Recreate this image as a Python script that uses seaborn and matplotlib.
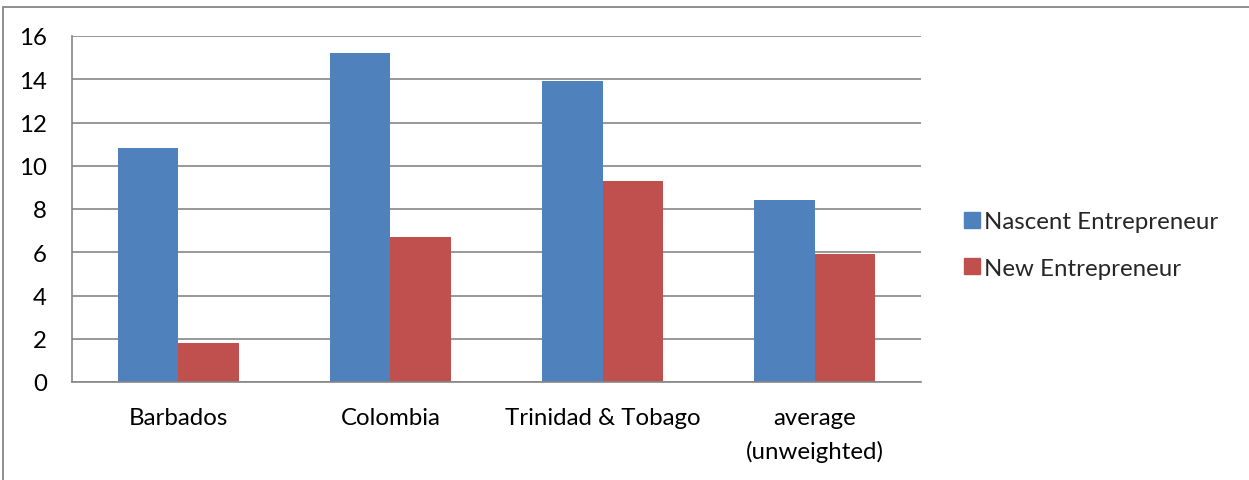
import matplotlib
matplotlib.use("Agg")
import matplotlib.pyplot as plt
import seaborn as sns
import pandas as pd
from matplotlib.patches import Rectangle
from matplotlib.lines import Line2D

categories = ["Barbados", "Colombia", "Trinidad & Tobago", "average\n(unweighted)"]
series_names = ["Nascent Entrepreneur", "New Entrepreneur"]
nascent = [10.8, 15.2, 13.9, 8.4]
new = [1.8, 6.7, 9.3, 5.9]
yticks = [0, 2, 4, 6, 8, 10, 12, 14, 16]
colors = ["#4F81BD", "#C0504D"]

df = pd.DataFrame({
    "Country": categories * 2,
    "Series": [series_names[0]] * len(categories) + [series_names[1]] * len(categories),
    "Value": nascent + new,
})

sns.set_theme(style="white")
plt.rcParams["font.family"] = ["Lato", "DejaVu Sans"]

fs = 17.3

fig = plt.figure(figsize=(12.49, 4.81), dpi=100)
ax = fig.add_axes([72 / 1249, 1 - 383 / 481, (921 - 72) / 1249, (383 - 37) / 481])

sns.barplot(data=df, x="Country", y="Value", hue="Series", palette=colors,
            width=0.57, ax=ax, saturation=1, edgecolor="none", linewidth=0, legend=False)

ax.set_ylim(0, 16)
ax.set_xlim(-0.5, len(categories) - 0.5)
ax.set_yticks(yticks)
ax.set_yticklabels([str(t) for t in yticks])
ax.set_xlabel("")
ax.set_ylabel("")
ax.yaxis.grid(True, color="#868686", linewidth=1.2)
ax.set_axisbelow(True)
for s in ["top", "right"]:
    ax.spines[s].set_visible(False)
for s in ["left", "bottom"]:
    ax.spines[s].set_color("#868686")
    ax.spines[s].set_linewidth(1.2)
ax.tick_params(axis="y", length=0, pad=18, labelsize=fs, colors="black")
ax.tick_params(axis="x", length=0, pad=18, labelsize=fs, colors="black")
for lab in ax.get_xticklabels():
    lab.set_linespacing(1.65)

handles = [Line2D([0], [0], marker="s", linestyle="none", markersize=11.5,
                  markerfacecolor=c, markeredgecolor=c) for c in colors]
fig.legend(handles, series_names, loc="center left", bbox_to_anchor=(950 / 1249, 1 - 246 / 481),
           frameon=False, fontsize=fs, handletextpad=0.0, labelspacing=1.05,
           handlelength=1.0, borderaxespad=0)

# outer chart border (only top/left visible in reference)
fig.patches.append(Rectangle((3.5 / 1249, -0.1), 1.2, (1 - 7.5 / 481) + 0.1,
                             transform=fig.transFigure, fill=False,
                             edgecolor="#868686", linewidth=1.3))

fig.savefig("out.png", dpi=100)
